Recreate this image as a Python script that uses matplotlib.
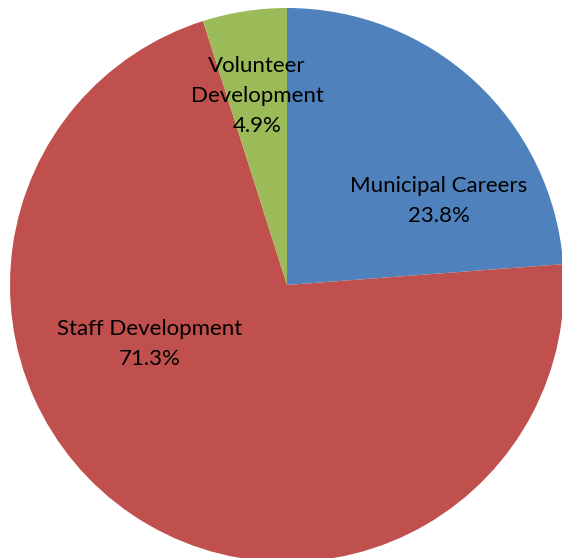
import matplotlib.pyplot as plt

# データ
labels = ['Municipal Careers', 'Staff Development', 'Volunteer\nDevelopment']
shares = [23.8, 71.3, 4.9]
colors = ['#4F81BD', '#C0504D', '#9BBB59']

# ラベルの位置 (ピクセル, 画像の左上基準)
label_pos = [(439, 201), (150, 344), (257, 96)]

W, H = 562, 558
cx, cy, r = 287, 285, 277

fig = plt.figure(figsize=(W / 100, H / 100), dpi=100)
ax = fig.add_axes([0, 0, 1, 1])

ax.pie(shares, colors=colors, startangle=90, counterclock=False,
       center=(cx, H - cy), radius=r, frame=True,
       wedgeprops={'linewidth': 0})
ax.set_xlim(0, W)
ax.set_ylim(0, H)
ax.axis('off')

for name, val, (x, y) in zip(labels, shares, label_pos):
    ax.text(x, H - y, f'{name}\n{val}%', ha='center', va='center',
            fontsize=16, family='Lato', color='black', linespacing=1.6)

fig.savefig('out.png', dpi=100)
